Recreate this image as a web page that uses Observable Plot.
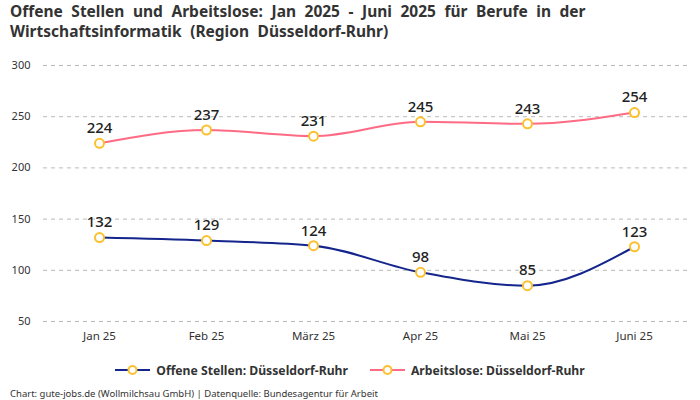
<!DOCTYPE html>
<html><head><meta charset="utf-8">
<script src="https://cdn.jsdelivr.net/npm/d3@7"></script>
<script src="https://cdn.jsdelivr.net/npm/@observablehq/plot@0.6"></script>
<style>
body{margin:0;background:#fff;font-family:"Noto Sans",Roboto,sans-serif;width:700px;height:400px;overflow:hidden;}
#title{font-weight:700;font-size:15.5px;word-spacing:4.5px;line-height:20px;color:#333;padding:1px 10px 0 10px;height:44px;}
#legend{display:flex;justify-content:center;gap:22px;font-size:12.2px;font-weight:700;color:#333;height:30px;align-items:center;margin-top:5px;}
#legend span{display:flex;align-items:center;gap:6px;}
#caption{font-size:9.5px;color:#333;padding-left:10px;margin-top:2px;}
</style></head>
<body>
<div id="title">Offene Stellen und Arbeitslose: Jan 2025 - Juni 2025 für Berufe in der Wirtschaftsinformatik (Region Düsseldorf-Ruhr)</div>
<div id="chart"></div>
<div id="legend"></div>
<div id="caption">Chart: gute-jobs.de (Wollmilchsau GmbH) | Datenquelle: Bundesagentur für Arbeit</div>
<script>
const months = ["Jan 25","Feb 25","März 25","Apr 25","Mai 25","Juni 25"];
const offeneStellen = [132,129,124,98,85,123];
const arbeitslose = [224,237,231,245,243,254];
const seriesNames = ["Offene Stellen: Düsseldorf-Ruhr","Arbeitslose: Düsseldorf-Ruhr"];
const seriesColors = ["#14258c","#ff6b84"];
const pointColor = "#fbc02d";
const yTicks = [50,100,150,200,250,300];

const data = [];
months.forEach((m,i)=>{
  data.push({month:m, value:offeneStellen[i], series:seriesNames[0]});
  data.push({month:m, value:arbeitslose[i], series:seriesNames[1]});
});

const chart = Plot.plot({
  width:700, height:305,
  marginLeft:43, marginRight:10, marginTop:20, marginBottom:29,
  style:{fontFamily:'"Noto Sans",Roboto,sans-serif', fontSize:"11px", color:"#333"},
  x:{type:"point", domain:months, padding:0.5, label:null, tickSize:0, tickPadding:10},
  y:{domain:[50,300], ticks:yTicks, label:null, tickSize:0, tickPadding:15},
  color:{domain:seriesNames, range:seriesColors},
  marks:[
    Plot.gridY(yTicks,{stroke:"#bbb", strokeOpacity:1, strokeDasharray:"4,4"}),
    Plot.axisY({ticks:yTicks, tickSize:0, tickPadding:13, label:null, fontSize:11}),
    Plot.axisX({tickSize:0, tickPadding:10, label:null, fontSize:11.5}),
    Plot.line(data,{x:"month", y:"value", z:"series", stroke:"series", strokeWidth:2, curve:"monotone-x"}),
    Plot.dot(data,{x:"month", y:"value", r:4.5, fill:"white", stroke:pointColor, strokeWidth:2}),
    Plot.text(data,{x:"month", y:"value", text:d=>String(d.value), dy:-15, fontSize:15, fontWeight:500, fill:"#222"})
  ]
});
document.getElementById("chart").appendChild(chart);

const legend = document.getElementById("legend");
seriesNames.forEach((n,i)=>{
  const s = document.createElement("span");
  s.innerHTML = `<svg width="35" height="12"><line x1="0" y1="6" x2="35" y2="6" stroke="${seriesColors[i]}" stroke-width="2"/><circle cx="17.5" cy="6" r="4" fill="white" stroke="${pointColor}" stroke-width="2"/></svg>${n}`;
  legend.appendChild(s);
});
</script>
</body></html>
